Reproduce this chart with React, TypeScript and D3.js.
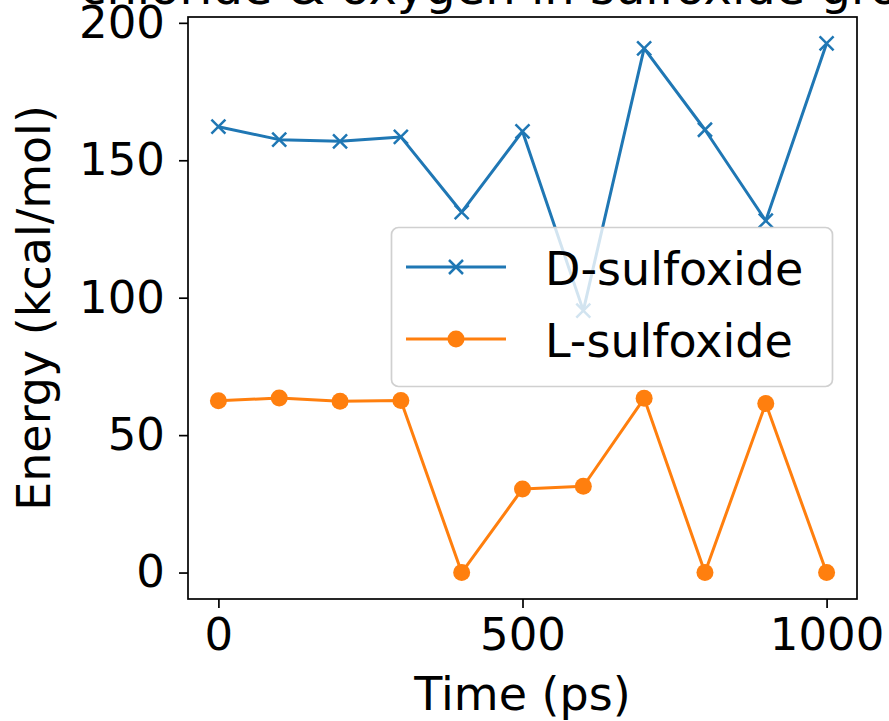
import { useEffect, useRef } from "react";
import * as d3 from "d3";

// data
const times = [0, 100, 200, 300, 400, 500, 600, 700, 800, 900, 1000];
const dSulfoxide = [162.2, 157.5, 156.9, 158.5, 131.1, 160.5, 95.3, 190.7, 161.1, 128.0, 192.5];
const lSulfoxide = [62.5, 63.5, 62.3, 62.6, 0, 30.4, 31.4, 63.4, 0, 61.5, 0];
const seriesNames = ["D-sulfoxide", "L-sulfoxide"];
const xTicks = [0, 500, 1000];
const yTicks = [0, 50, 100, 150, 200];

const width = 889;
const height = 721;
const marginLeft = 188;
const marginRight = 32; // right edge of axes at 857
const marginTop = 17;
const marginBottom = 122; // bottom edge of axes at 599
const font = "DejaVu Sans";

export default function App() {
  const ref = useRef<SVGSVGElement | null>(null);

  useEffect(() => {
    const svg = d3.select(ref.current);
    svg.selectAll("*").remove();

    // matplotlib style 5% padding on both axes
    const xMin = d3.min(times)!, xMax = d3.max(times)!;
    const xPad = (xMax - xMin) * 0.05;
    const allY = [...dSulfoxide, ...lSulfoxide];
    const yMin = d3.min(allY)!, yMax = d3.max(allY)!;
    const yPad = (yMax - yMin) * 0.05;

    const x = d3
      .scaleLinear()
      .domain([xMin - xPad, xMax + xPad])
      .range([marginLeft, width - marginRight]);
    const y = d3
      .scaleLinear()
      .domain([yMin - yPad, yMax + yPad])
      .range([height - marginBottom, marginTop]);

    const series = [
      { name: seriesNames[0], values: dSulfoxide, color: "#1f77b4", marker: "x" },
      { name: seriesNames[1], values: lSulfoxide, color: "#ff7f0e", marker: "o" },
    ];

    const line = d3
      .line<number>()
      .x((_, i) => x(times[i]))
      .y((d) => y(d));

    const drawMarker = (g: any, kind: string, cx: number, cy: number, color: string) => {
      if (kind === "o") {
        g.append("circle").attr("cx", cx).attr("cy", cy).attr("r", 8.5).attr("fill", color);
      } else {
        const s = 7;
        g.append("path")
          .attr("d", `M${cx - s},${cy - s}L${cx + s},${cy + s}M${cx - s},${cy + s}L${cx + s},${cy - s}`)
          .attr("stroke", color)
          .attr("stroke-width", 2.5)
          .attr("fill", "none");
      }
    };

    // lines + markers
    series.forEach((s) => {
      const g = svg.append("g");
      g.append("path")
        .datum(s.values)
        .attr("d", line)
        .attr("fill", "none")
        .attr("stroke", s.color)
        .attr("stroke-width", 3)
        .attr("stroke-linejoin", "round");
      s.values.forEach((v, i) => drawMarker(g, s.marker, x(times[i]), y(v), s.color));
    });

    // axes frame
    svg.append("rect")
      .attr("x", marginLeft)
      .attr("y", marginTop)
      .attr("width", width - marginLeft - marginRight)
      .attr("height", height - marginTop - marginBottom)
      .attr("fill", "none")
      .attr("stroke", "#000")
      .attr("stroke-width", 1.7);

    // x axis
    const xAxis = d3.axisBottom(x).tickValues(xTicks).tickSize(9).tickPadding(10).tickFormat(d3.format("d"));
    svg.append("g")
      .attr("transform", `translate(0,${height - marginBottom})`)
      .call(xAxis)
      .call((g) => g.select(".domain").remove())
      .call((g) => g.selectAll(".tick line").attr("stroke-width", 1.7))
      .call((g) =>
        g.selectAll(".tick text").attr("font-size", 45).attr("font-family", font).attr("fill", "#000")
      );

    // y axis
    const yAxis = d3.axisLeft(y).tickValues(yTicks).tickSize(9).tickPadding(14).tickFormat(d3.format("d"));
    svg.append("g")
      .attr("transform", `translate(${marginLeft},0)`)
      .call(yAxis)
      .call((g) => g.select(".domain").remove())
      .call((g) => g.selectAll(".tick line").attr("stroke-width", 1.7))
      .call((g) =>
        g.selectAll(".tick text").attr("font-size", 45).attr("font-family", font).attr("fill", "#000")
      );

    // axis labels
    svg.append("text")
      .attr("x", (marginLeft + width - marginRight) / 2)
      .attr("y", 710)
      .attr("text-anchor", "middle")
      .attr("font-family", font)
      .attr("font-size", 46)
      .text("Time (ps)");

    svg.append("text")
      .attr("transform", `translate(50,${(marginTop + height - marginBottom) / 2}) rotate(-90)`)
      .attr("text-anchor", "middle")
      .attr("font-family", font)
      .attr("font-size", 46)
      .text("Energy (kcal/mol)");

    // title, cut off by the top of the picture
    svg.append("text")
      .attr("x", 80)
      .attr("y", 4)
      .attr("font-family", font)
      .attr("font-size", 48)
      .text("chloride & oxygen in sulfoxide group");

    // legend
    const lg = svg.append("g");
    lg.append("rect")
      .attr("x", 391.5)
      .attr("y", 227.5)
      .attr("width", 441)
      .attr("height", 159)
      .attr("rx", 7)
      .attr("fill", "#fff")
      .attr("fill-opacity", 0.8)
      .attr("stroke", "#d0d0d0")
      .attr("stroke-width", 1.7);
    series.forEach((s, i) => {
      const cy = 267 + i * 72;
      lg.append("line")
        .attr("x1", 406)
        .attr("x2", 506)
        .attr("y1", cy)
        .attr("y2", cy)
        .attr("stroke", s.color)
        .attr("stroke-width", 3);
      drawMarker(lg, s.marker, 456, cy, s.color);
      lg.append("text")
        .attr("x", 545)
        .attr("y", cy + 18)
        .attr("font-family", font)
        .attr("font-size", 46)
        .text(s.name);
    });
  }, []);

  return (
    <svg
      ref={ref}
      width={width}
      height={height}
      style={{ position: "absolute", left: 0, top: 0, background: "#fff" }}
    />
  );
}
